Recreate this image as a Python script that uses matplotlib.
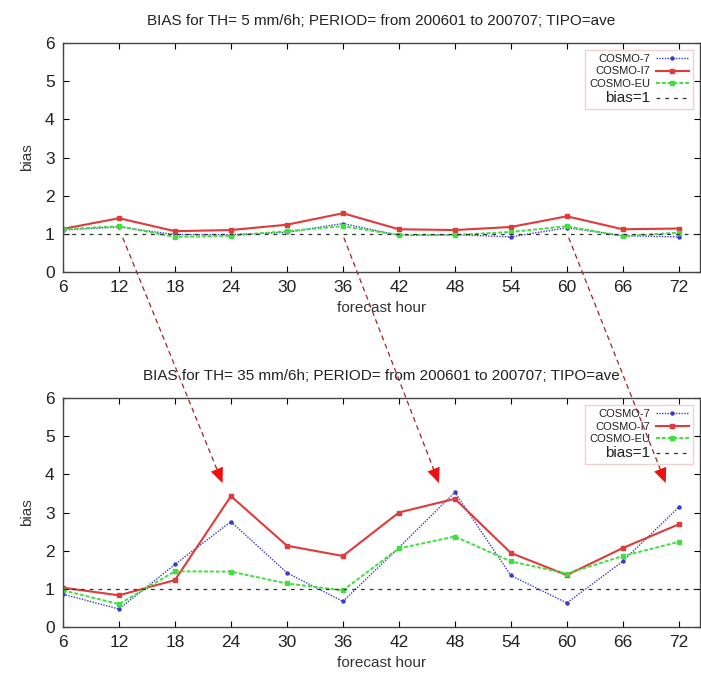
import matplotlib
matplotlib.use("Agg")
import matplotlib.pyplot as plt
import numpy as np
from matplotlib.lines import Line2D
from matplotlib.patches import Polygon

plt.rcParams['font.family'] = ['Liberation Sans', 'DejaVu Sans']

hours = [6, 12, 18, 24, 30, 36, 42, 48, 54, 60, 66, 72]

top_cosmo7 = [1.10, 1.18, 0.98, 0.98, 1.04, 1.27, 0.96, 0.98, 0.92, 1.16, 0.95, 0.92]
top_cosmoI7 = [1.13, 1.41, 1.07, 1.10, 1.24, 1.54, 1.12, 1.10, 1.18, 1.46, 1.12, 1.14]
top_cosmoEU = [1.12, 1.20, 0.92, 0.95, 1.07, 1.20, 0.97, 0.97, 1.05, 1.20, 0.94, 1.03]

bot_cosmo7 = [0.86, 0.47, 1.64, 2.76, 1.42, 0.67, 2.08, 3.53, 1.35, 0.63, 1.72, 3.14]
bot_cosmoI7 = [1.03, 0.83, 1.23, 3.43, 2.13, 1.86, 3.00, 3.36, 1.94, 1.36, 2.07, 2.69]
bot_cosmoEU = [0.96, 0.60, 1.46, 1.45, 1.14, 0.96, 2.06, 2.37, 1.72, 1.40, 1.86, 2.23]

titles = ["BIAS for TH= 5 mm/6h; PERIOD= from 200601 to 200707; TIPO=ave",
          "BIAS for TH= 35 mm/6h; PERIOD= from 200601 to 200707; TIPO=ave"]

# arrows: (start hour, start bias in top panel) -> (end hour, end bias in bottom panel)
arrow_start = [(12.4, 0.9), (36.1, 0.9), (60.2, 0.9)]
arrow_end = [(23.1, 3.77), (46.3, 3.77), (70.6, 3.77)]

fig = plt.figure(figsize=(7.01, 6.76), dpi=100)
ax1 = fig.add_axes([0.0899, 0.5976, 0.909, 0.3388])
ax2 = fig.add_axes([0.0899, 0.0725, 0.909, 0.3387])

def draw(ax, c7, ci7, ceu, title):
    ax.plot(hours, c7, color='#3a3acc', linestyle=(0, (1, 1)), linewidth=1.0,
            marker='o', markersize=2.2, label='COSMO-7')
    ax.plot(hours, ci7, color='#e03a3a', linestyle='-', linewidth=1.5,
            marker='s', markersize=2.5, label='COSMO-I7')
    ax.plot(hours, ceu, color='#3ee03e', linestyle=(0, (2, 1)), linewidth=1.4,
            marker='s', markersize=2.5, label='COSMO-EU')
    ax.axhline(1, color='#333333', linestyle=(0, (3, 4)), linewidth=0.9, label='bias=1')
    ax.set_xlim(6, 74.3)
    ax.set_ylim(0, 6)
    ax.set_xticks(hours)
    ax.set_yticks(range(0, 7))
    ax.tick_params(direction='in', top=True, right=True, labelsize=12.5, length=4, pad=6)
    for lab in ax.get_xticklabels() + ax.get_yticklabels():
        lab.set_color('#222222')
    ax.set_xlabel('forecast hour', fontsize=11, color='#333333', labelpad=4)
    ax.set_ylabel('bias', fontsize=11, color='#333333', labelpad=8)
    ax.set_title(title, fontsize=11, color='#222222', pad=13)
    for s in ax.spines.values():
        s.set_color('#444444')
        s.set_linewidth(1.0)
    leg = ax.legend(loc='upper right', markerfirst=False, fontsize=8,
                    frameon=True, fancybox=False, edgecolor='#e8c8c8',
                    handlelength=3.0, handletextpad=0.5, borderpad=0.35,
                    labelspacing=0.2, bbox_to_anchor=(0.997, 0.992))
    leg.get_frame().set_linewidth(1.0)
    leg.get_texts()[3].set_fontsize(11)
    for t in leg.get_texts():
        t.set_color('#222222')

draw(ax1, top_cosmo7, top_cosmoI7, top_cosmoEU, titles[0])
draw(ax2, bot_cosmo7, bot_cosmoI7, bot_cosmoEU, titles[1])

inv = fig.transFigure.inverted()
head_len = 15.0
head_w = 13.0
for (sx, sy), (ex, ey) in zip(arrow_start, arrow_end):
    p0 = ax1.transData.transform((sx, sy))
    p1 = ax2.transData.transform((ex, ey))
    d = (p1 - p0) / np.hypot(*(p1 - p0))
    n = np.array([-d[1], d[0]])
    base = p1 - d * head_len
    f0 = inv.transform(p0)
    fb = inv.transform(base + d * 2)
    line = Line2D([f0[0], fb[0]], [f0[1], fb[1]], transform=fig.transFigure,
                  color='#aa2020', linestyle=(0, (4, 3)), linewidth=0.9, zorder=10)
    fig.add_artist(line)
    tri = inv.transform(np.array([p1, base + n * head_w / 2, base - n * head_w / 2]))
    fig.add_artist(Polygon(tri, closed=True, transform=fig.transFigure,
                           facecolor='#ee1111', edgecolor='none', zorder=11))

fig.savefig('out.png', dpi=100)
